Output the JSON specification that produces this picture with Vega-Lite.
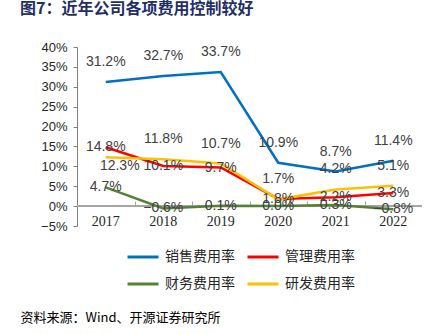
{
  "$schema": "https://vega.github.io/schema/vega-lite/v6.json",
  "width": 345,
  "height": 179,
  "autosize": {"type": "none"},
  "padding": {"left": 77, "top": 47, "right": 15, "bottom": 108},
  "background": "white",
  "title": {
    "text": "图7：近年公司各项费用控制较好",
    "anchor": "start",
    "frame": "group",
    "dx": -57,
    "offset": 24,
    "font": "Noto Sans CJK SC",
    "fontSize": 16,
    "fontWeight": "bold",
    "color": "#1F2F66"
  },
  "config": {"view": {"stroke": null}},
  "data": {
    "values": [
      {"year": "2017", "series": "销售费用率", "value": 0.312},
      {"year": "2018", "series": "销售费用率", "value": 0.327},
      {"year": "2019", "series": "销售费用率", "value": 0.337},
      {"year": "2020", "series": "销售费用率", "value": 0.109},
      {"year": "2021", "series": "销售费用率", "value": 0.087},
      {"year": "2022", "series": "销售费用率", "value": 0.114},
      {"year": "2017", "series": "管理费用率", "value": 0.148},
      {"year": "2018", "series": "管理费用率", "value": 0.101},
      {"year": "2019", "series": "管理费用率", "value": 0.097},
      {"year": "2020", "series": "管理费用率", "value": 0.018},
      {"year": "2021", "series": "管理费用率", "value": 0.022},
      {"year": "2022", "series": "管理费用率", "value": 0.033},
      {"year": "2017", "series": "财务费用率", "value": 0.047},
      {"year": "2018", "series": "财务费用率", "value": -0.006},
      {"year": "2019", "series": "财务费用率", "value": 0.001},
      {"year": "2020", "series": "财务费用率", "value": 0.0},
      {"year": "2021", "series": "财务费用率", "value": 0.003},
      {"year": "2022", "series": "财务费用率", "value": -0.008},
      {"year": "2017", "series": "研发费用率", "value": 0.123},
      {"year": "2018", "series": "研发费用率", "value": 0.118},
      {"year": "2019", "series": "研发费用率", "value": 0.107},
      {"year": "2020", "series": "研发费用率", "value": 0.017},
      {"year": "2021", "series": "研发费用率", "value": 0.042},
      {"year": "2022", "series": "研发费用率", "value": 0.051}
    ]
  },
  "encoding": {
    "y": {
      "field": "value",
      "type": "quantitative",
      "scale": {"domain": [-0.05, 0.4], "nice": false, "zero": false},
      "axis": {
        "title": null,
        "format": ".0%",
        "values": [-0.05, 0, 0.05, 0.1, 0.15, 0.2, 0.25, 0.3, 0.35, 0.4],
        "grid": false,
        "domainColor": "#7F7F7F",
        "tickColor": "#7F7F7F",
        "tickSize": 4,
        "labelPadding": 6,
        "labelFont": "Liberation Sans",
        "labelFontSize": 13,
        "labelColor": "#262626"
      }
    }
  },
  "layer": [
    {
      "mark": {"type": "rule", "color": "#A6A6A6", "strokeWidth": 1},
      "encoding": {
        "y": {"datum": 0}
      }
    },
    {
      "mark": {"type": "line", "strokeWidth": 2.5},
      "encoding": {
        "x": {
          "field": "year",
          "type": "ordinal",
          "scale": {"type": "band", "paddingInner": 0, "paddingOuter": 0},
          "axis": {
            "orient": "bottom",
            "domain": false,
            "ticks": false,
            "labelAngle": 0,
            "labelPadding": -12,
            "labelBaseline": "top",
            "labelFont": "Liberation Serif",
            "labelFontSize": 14,
            "labelColor": "#262626",
            "title": "资料来源：Wind、开源证券研究所",
            "titleAnchor": "start",
            "titleAlign": "left",
            "titleX": -57,
            "titleY": 91,
            "titleBaseline": "middle",
            "titleFont": "Noto Sans CJK SC",
            "titleFontSize": 13,
            "titleFontWeight": "normal",
            "titleColor": "#000000"
          }
        },
        "color": {
          "field": "series",
          "type": "nominal",
          "sort": ["销售费用率", "管理费用率", "财务费用率", "研发费用率"],
          "scale": {
            "domain": ["销售费用率", "管理费用率", "财务费用率", "研发费用率"],
            "range": ["#0070C0", "#FF0000", "#548235", "#FFC000"]
          },
          "legend": {
            "title": null,
            "orient": "none",
            "direction": "horizontal",
            "legendX": 49,
            "legendY": 193,
            "columns": 2,
            "columnPadding": 6,
            "rowPadding": 3,
            "symbolType": "stroke",
            "symbolSize": 961,
            "symbolStrokeWidth": 3,
            "labelOffset": 5,
            "labelFont": "Noto Sans CJK SC",
            "labelFontSize": 14,
            "labelColor": "#262626"
          }
        }
      }
    },
    {
      "transform": [
        {"filter": "datum.series == '销售费用率' || (datum.series == '研发费用率' && datum.year != '2017')"}
      ],
      "mark": {"type": "text", "dy": -20, "font": "Liberation Sans", "fontSize": 14, "color": "#404040"},
      "encoding": {
        "x": {
          "field": "year",
          "type": "ordinal",
          "scale": {"type": "band", "paddingInner": 0, "paddingOuter": 0},
          "axis": null
        },
        "text": {"field": "value", "type": "quantitative", "format": ".1%"}
      }
    },
    {
      "transform": [
        {"filter": "datum.series == '管理费用率' || datum.series == '财务费用率'"}
      ],
      "mark": {"type": "text", "font": "Liberation Sans", "fontSize": 14, "color": "#404040"},
      "encoding": {
        "x": {
          "field": "year",
          "type": "ordinal",
          "scale": {"type": "band", "paddingInner": 0, "paddingOuter": 0},
          "axis": null
        },
        "text": {"field": "value", "type": "quantitative", "format": ".1%"}
      }
    },
    {
      "transform": [
        {"filter": "datum.series == '研发费用率' && datum.year == '2017'"}
      ],
      "mark": {"type": "text", "dx": 14, "dy": 9, "font": "Liberation Sans", "fontSize": 14, "color": "#404040"},
      "encoding": {
        "x": {
          "field": "year",
          "type": "ordinal",
          "scale": {"type": "band", "paddingInner": 0, "paddingOuter": 0},
          "axis": {
            "orient": "top",
            "offset": -159,
            "labels": false,
            "domain": false,
            "title": null,
            "tickColor": "#A6A6A6",
            "tickOffset": -28.75,
            "tickSize": 5
          }
        },
        "text": {"field": "value", "type": "quantitative", "format": ".1%"}
      }
    }
  ]
}
